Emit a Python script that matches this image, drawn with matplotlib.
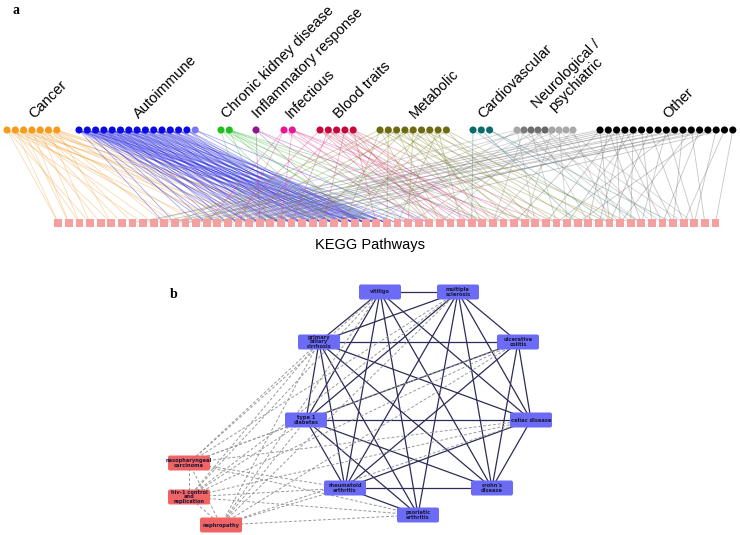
import matplotlib.pyplot as plt
from matplotlib.patches import FancyBboxPatch

plt.rcParams['font.family'] = ['Liberation Sans', 'DejaVu Sans']

# ---------------- panel a data ----------------
groups = ['Cancer', 'Autoimmune', 'Chronic kidney disease', 'Inflammatory response',
          'Infectious', 'Blood traits', 'Metabolic', 'Cardiovascular',
          'Neurological /\npsychiatric', 'Other']
group_colors = [
    ['#f59a1b'] * 7,
    ['#0b0be0'] * 14 + ['#7777ee'],
    ['#1fbf1f'] * 2,
    ['#8e168e'],
    ['#ea1593'] * 2,
    ['#c4093a'] * 5,
    ['#6e6a12'] * 9,
    ['#0b6a6a'] * 3,
    ['#a6a6a6', '#7a7a7a', '#6c6c6c', '#707070', '#666666',
     '#a4a4a4', '#aaaaaa', '#a8a8a8', '#aaaaaa'],
    ['#000000'] * 17,
]
edge_colors = ['#f0a640', '#2a2ae0', '#40c040', '#9a3a9a', '#e0409a',
               '#d0406a', '#8a8a30', '#2a7a7a', '#909090', '#707070']
n_pathways = 63

# disease node -> list of KEGG pathway indices, per group
links = [
    [[0, 3, 8, 14, 20], [0, 2, 5, 12, 18, 26], [1, 4, 9, 16, 22],
     [1, 6, 11, 19, 27], [2, 7, 13, 24], [3, 10, 17, 21, 30], [5, 15, 23, 28]],
    [[10, 14, 17, 19, 21, 24, 26, 28], [11, 15, 18, 20, 22, 25, 27, 29, 30],
     [13, 16, 18, 21, 23, 25, 28, 30], [14, 17, 19, 21, 24, 26, 28, 31],
     [15, 18, 20, 22, 25, 27, 29], [16, 19, 21, 23, 26, 28, 30, 32],
     [17, 20, 22, 24, 27, 29, 31], [18, 21, 23, 25, 28, 30, 33],
     [19, 22, 24, 26, 29, 31], [20, 23, 25, 27, 29, 31, 34],
     [21, 24, 26, 28, 30, 32], [22, 25, 27, 29, 31], [23, 26, 28, 30],
     [24, 27, 29], [29, 35]],
    [[18, 24, 30, 36], [20, 26, 29, 33, 38, 41, 45]],
    [[19, 28, 35, 40]],
    [[14, 17, 33, 37], [21, 34, 39, 43, 46]],
    [[16, 34, 37, 40], [22, 35, 38, 42], [18, 36, 39], [25, 37, 41, 44],
     [30, 35, 40, 47]],
    [[11, 27, 35, 42, 48], [13, 31, 44, 50], [20, 36, 45], [24, 39, 46, 52],
     [15, 33, 43], [28, 41, 47, 54], [23, 40, 49], [32, 38, 51], [26, 45, 53]],
    [[39, 52], [49], [55, 58]],
    [[8, 30, 45, 55], [21, 41, 53], [12, 47, 57], [29, 50], [36, 54, 59],
     [18, 44], [26, 48, 56], [33, 60], [41, 52]],
    [[7, 43, 52], [9, 50, 55], [11, 46, 53, 57], [13, 51, 58], [15, 48, 54],
     [10, 56], [17, 52, 59], [], [12, 55, 60], [19, 47], [14, 58],
     [22, 53, 61], [16, 57], [20, 49], [18, 60], [25, 59], [62]],
]

# ---------------- panel b data ----------------
net_nodes = ['vitiligo', 'multiple\nsclerosis', 'primary\nbiliary\ncirrhosis',
             'ulcerative\ncolitis', 'type 1\ndiabetes', 'celiac disease',
             'rheumatoid\narthritis', "crohn's\ndisease", 'psoriatic\narthritis',
             'nasopharyngeal\ncarcinoma', 'hiv-1 control\nand\nreplication',
             'nephropathy']
net_kind = ['auto'] * 9 + ['other'] * 3
solid_edges = [
    (0, 1), (0, 2), (0, 4), (0, 6), (0, 8), (0, 5), (0, 7),
    (1, 2), (1, 3), (1, 4), (1, 6), (1, 8), (1, 5), (1, 7),
    (2, 3), (2, 4), (2, 6), (2, 8), (2, 7), (2, 5),
    (3, 4), (3, 6), (3, 5), (3, 7),
    (4, 5), (4, 6), (4, 7), (4, 8),
    (5, 6), (5, 7), (6, 7), (6, 8),
]
dashed_edges = [
    (9, 0), (9, 1), (9, 2), (9, 3), (9, 4), (9, 5), (9, 6), (9, 8), (9, 10), (9, 11),
    (10, 0), (10, 1), (10, 2), (10, 3), (10, 4), (10, 5), (10, 6), (10, 8), (10, 11),
    (11, 0), (11, 1), (11, 2), (11, 3), (11, 4), (11, 5), (11, 6), (11, 8),
]

# ---------------- figure (axes in pixel units) ----------------
fig = plt.figure(figsize=(7.4, 5.35), dpi=100)
ax = fig.add_axes([0, 0, 1, 1])
ax.set_xlim(0, 740)
ax.set_ylim(535, 0)
ax.axis('off')

# layout of panel a
top_y, bot_y = 130, 223
group_start = [7, 79, 221, 256, 284, 320, 380, 473, 517, 600]
group_step = [8.3] * 8 + [7.0, 8.3]
path_x = [58.3 + 10.6 * p for p in range(n_pathways)]

for g, name in enumerate(groups):
    xs = [group_start[g] + group_step[g] * i for i in range(len(group_colors[g]))]
    for i, plist in enumerate(links[g]):
        for p in plist:
            ax.plot([xs[i], path_x[p]], [top_y, bot_y], color=edge_colors[g],
                    lw=0.6, alpha=0.4, zorder=1)
    ax.scatter(xs, [top_y] * len(xs), s=26, c=group_colors[g], zorder=3,
               edgecolors='none')
    cx = (xs[0] + xs[-1]) / 2 + 2
    ax.text(cx, 119, name, rotation=45, rotation_mode='anchor', ha='left',
            va='baseline', fontsize=10.5, multialignment='center', linespacing=1.0)

ax.scatter(path_x, [bot_y] * n_pathways, s=30, marker='s', c='#f4a0a0',
           edgecolors='none', zorder=3)
ax.text(370, 245, 'KEGG Pathways', ha='center', va='center', fontsize=10.5)

# layout of panel b
net_pos = [(380, 292), (458, 292), (319, 342), (518, 342), (306, 420),
           (531, 420), (345, 488), (492, 488), (418, 515), (189, 463),
           (189, 497), (221, 525)]

for a, b in solid_edges:
    ax.plot([net_pos[a][0], net_pos[b][0]], [net_pos[a][1], net_pos[b][1]],
            color='#2c2c58', lw=0.9, zorder=1)
for a, b in dashed_edges:
    ax.plot([net_pos[a][0], net_pos[b][0]], [net_pos[a][1], net_pos[b][1]],
            color='#999999', lw=0.7, ls=(0, (3, 2)), zorder=1)

bw, bh = 42, 15
for name, kind, (x, y) in zip(net_nodes, net_kind, net_pos):
    fc = '#6b6bf5' if kind == 'auto' else '#f26464'
    box = FancyBboxPatch((x - bw / 2, y - bh / 2), bw, bh,
                         boxstyle='round,pad=0,rounding_size=2',
                         fc=fc, ec='none', zorder=4)
    ax.add_patch(box)
    ax.text(x, y, name, ha='center', va='center', fontsize=3.7,
            fontweight='bold', color='#1a1a3a', zorder=5,
            family='DejaVu Sans', linespacing=1.0)

ax.text(16, 10, 'a', fontsize=10, fontweight='bold', family='Liberation Serif',
        ha='center', va='center')
ax.text(174, 295, 'b', fontsize=10, fontweight='bold', family='Liberation Serif',
        ha='center', va='center')

fig.savefig('out.png', dpi=100)
